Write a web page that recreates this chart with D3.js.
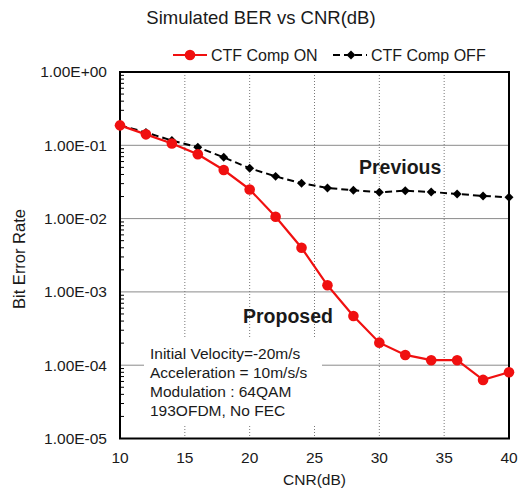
<!DOCTYPE html>
<html>
<head>
<meta charset="utf-8">
<script src="https://cdn.jsdelivr.net/npm/d3@7"></script>
<style>
  html, body { margin: 0; padding: 0; background: #fff; }
  svg { display: block; font-family: "Liberation Sans", Arial, sans-serif; }
</style>
</head>
<body>
<svg id="chart" width="521" height="489"></svg>
<script>
// CNR sweep (dB)
const cnr = [10, 12, 14, 16, 18, 20, 22, 24, 26, 28, 30, 32, 34, 36, 38, 40];
// BER with CTF compensation enabled (proposed)
const berOn = [0.187, 0.141, 0.106, 0.0754, 0.046, 0.025, 0.0106, 0.0040, 0.00123,
               0.00047, 0.000203, 0.000138, 0.000117, 0.000117, 0.000063, 0.000080];
// BER with CTF compensation disabled (previous)
const berOff = [0.187, 0.150, 0.116, 0.094, 0.0686, 0.0486, 0.0377, 0.0303, 0.0262,
                0.0243, 0.0229, 0.0240, 0.0231, 0.0217, 0.0204, 0.0195];
const xTicks = [10, 15, 20, 25, 30, 35, 40];
const yTicks = [1, 1e-1, 1e-2, 1e-3, 1e-4, 1e-5];
const yTickLabels = ["1.00E+00", "1.00E-01", "1.00E-02", "1.00E-03", "1.00E-04", "1.00E-05"];
const noteLines = ["Initial Velocity=-20m/s", "Acceleration = 10m/s/s",
                   "Modulation : 64QAM", "193OFDM, No FEC"];

const svg = d3.select("#chart");
const L = 120, R = 509, T = 72, B = 438.5;

const x = d3.scaleLinear().domain([10, 40]).range([L, R]);
const y = d3.scaleLog().domain([1e-5, 1]).range([B, T]);

// place a vertically centred text node at (px, py)
function label(parent, px, py, str, opts = {}) {
  return parent.append("text").attr("x", px).attr("y", py).attr("dy", "0.35em")
    .attr("font-size", opts.size || 14)
    .attr("text-anchor", opts.anchor || "start")
    .attr("font-weight", opts.weight || "normal")
    .attr("fill", opts.fill || "#1a1a1a")
    .text(str);
}

// horizontal gridlines at each decade
svg.append("g").selectAll("line").data(yTicks.slice(1, 5)).join("line")
  .attr("x1", L).attr("x2", R)
  .attr("y1", d => y(d)).attr("y2", d => y(d))
  .attr("stroke", "#8a8a8a").attr("stroke-width", 1);

// vertical dotted gridlines
svg.append("g").selectAll("line").data(xTicks.slice(1, 6)).join("line")
  .attr("x1", d => x(d)).attr("x2", d => x(d))
  .attr("y1", T).attr("y2", B)
  .attr("stroke", "#777").attr("stroke-width", 1)
  .attr("stroke-dasharray", "1,2");

// minor ticks on the log axis, drawn inward
const minor = [];
for (let e = -5; e < 0; e++) for (let m = 2; m <= 9; m++) minor.push(m * Math.pow(10, e));
svg.append("g").selectAll("line").data(minor).join("line")
  .attr("x1", L).attr("x2", L + 4)
  .attr("y1", d => y(d)).attr("y2", d => y(d))
  .attr("stroke", "#000").attr("stroke-width", 1);

// annotation box (white background hides grid)
svg.append("rect").attr("x", 144).attr("y", 338).attr("width", 178).attr("height", 87)
  .attr("fill", "#fff");

// plot frame
svg.append("rect").attr("x", L).attr("y", T).attr("width", R - L).attr("height", B - T)
  .attr("fill", "none").attr("stroke", "#000").attr("stroke-width", 2);

// y axis labels
const yl = svg.append("g");
yTicks.forEach((d, i) => label(yl, 107, y(d), yTickLabels[i], { anchor: "end", size: 15.5 }));

// x axis labels
const xl = svg.append("g");
xTicks.forEach(d => label(xl, x(d), 457.5, d, { anchor: "middle", size: 15.5 }));

// axis titles and chart title
label(svg, (L + R) / 2, 480, "CNR(dB)", { anchor: "middle", size: 15.5 });
svg.append("text").attr("transform", "translate(19,259) rotate(-90)")
  .attr("dy", "0.35em").attr("text-anchor", "middle")
  .attr("font-size", 16.5).attr("fill", "#1a1a1a").text("Bit Error Rate");
label(svg, 261, 17.5, "Simulated BER vs CNR(dB)", { anchor: "middle", size: 18.5 });

// series lines
const line = d3.line().x(d => x(d[0])).y(d => y(d[1]));
const offData = cnr.map((c, i) => [c, berOff[i]]);
const onData = cnr.map((c, i) => [c, berOn[i]]);

svg.append("path").datum(offData).attr("d", line)
  .attr("fill", "none").attr("stroke", "#000").attr("stroke-width", 2)
  .attr("stroke-dasharray", "7,4");
svg.append("path").datum(onData).attr("d", line)
  .attr("fill", "none").attr("stroke", "#f01010").attr("stroke-width", 2.2);

// markers: diamonds are squares turned 45 degrees
const diamond = d3.symbol().type(d3.symbolSquare).size(40);
svg.append("g").selectAll("path").data(offData).join("path")
  .attr("transform", d => `translate(${x(d[0])},${y(d[1])}) rotate(45)`)
  .attr("d", diamond).attr("fill", "#000");
svg.append("g").selectAll("circle").data(onData).join("circle")
  .attr("cx", d => x(d[0])).attr("cy", d => y(d[1])).attr("r", 5.3)
  .attr("fill", "#f01010");

// annotation text
const nt = svg.append("g");
noteLines.forEach((s, i) => label(nt, 150, 354 + i * 18.7, s, { size: 15.5 }));

// series captions
label(svg, 359, 167, "Previous", { size: 19.5, weight: "bold" });
label(svg, 243, 316, "Proposed", { size: 19.5, weight: "bold" });

// legend
const lg = svg.append("g");
lg.append("line").attr("x1", 173).attr("x2", 207).attr("y1", 55).attr("y2", 55)
  .attr("stroke", "#f01010").attr("stroke-width", 2.2);
lg.append("circle").attr("cx", 190).attr("cy", 55).attr("r", 5.3).attr("fill", "#f01010");
label(lg, 211, 55, "CTF Comp ON", { size: 16 });
lg.append("line").attr("x1", 333).attr("x2", 367).attr("y1", 55).attr("y2", 55)
  .attr("stroke", "#000").attr("stroke-width", 2).attr("stroke-dasharray", "7,4");
lg.append("path").attr("transform", "translate(351,55) rotate(45)").attr("d", diamond).attr("fill", "#000");
label(lg, 371, 55, "CTF Comp OFF", { size: 16 });
</script>
</body>
</html>
